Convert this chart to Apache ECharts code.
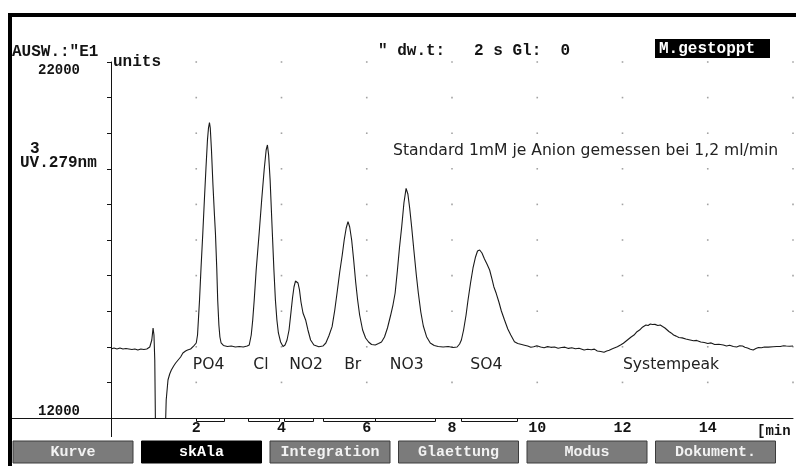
<!DOCTYPE html>
<html>
<head>
<meta charset="utf-8">
<script src="https://cdn.jsdelivr.net/npm/echarts@6/dist/echarts.min.js"></script>
<style>
  html, body { margin: 0; padding: 0; background: #ffffff; }
  #chart { width: 796px; height: 466px; }
</style>
</head>
<body>
<div id="chart"></div>
<script>
// Chromatogram of a 1 mM anion standard, UV detection at 279 nm
const minutes = [
  0.000, 0.070, 0.140, 0.210, 0.280, 0.350, 0.420, 0.490, 0.560, 0.630, 0.700, 0.770, 0.840, 0.910,
  0.957, 0.987, 1.008, 1.027, 1.050, 1.260, 1.295, 1.337, 1.377, 1.416, 1.470, 1.517, 1.563, 1.633,
  1.687, 1.750, 1.797, 1.867, 1.937, 2.000,
  2.030, 2.053, 2.077, 2.112, 2.154, 2.193, 2.228, 2.263, 2.287, 2.310, 2.329, 2.357, 2.392, 2.427,
  2.450, 2.481, 2.503, 2.531, 2.555, 2.583, 2.637, 2.730, 2.823, 2.917, 3.010, 3.103, 3.196,
  3.243, 3.290, 3.325, 3.360, 3.406, 3.476, 3.535, 3.593, 3.640, 3.670, 3.698, 3.733, 3.785, 3.822,
  3.857, 3.892, 3.927, 3.979, 4.036,
  4.083, 4.130, 4.177, 4.223, 4.258, 4.293, 4.328, 4.352, 4.387, 4.422, 4.457, 4.504, 4.566, 4.620,
  4.683, 4.760, 4.876, 4.970,
  5.040, 5.110, 5.187, 5.250, 5.303, 5.366, 5.425, 5.471, 5.518, 5.560, 5.600, 5.646, 5.693, 5.740,
  5.786, 5.833, 5.903, 5.973, 6.043, 6.113, 6.199, 6.276,
  6.346, 6.416, 6.486, 6.556, 6.615, 6.666, 6.720, 6.767, 6.820, 6.872, 6.923, 6.965, 7.007, 7.053,
  7.105, 7.163, 7.210, 7.268, 7.327, 7.403, 7.490, 7.583, 7.676, 7.793, 7.910, 8.026, 8.120,
  8.178, 8.220, 8.272, 8.330, 8.376, 8.435, 8.493, 8.552, 8.599, 8.649, 8.703, 8.762, 8.820, 8.883,
  8.937, 8.983, 9.037, 9.100, 9.158, 9.232, 9.309, 9.379, 9.465, 9.542, 9.636,
  9.700, 9.775, 9.850, 9.915, 9.990, 10.080, 10.160, 10.243, 10.320, 10.406, 10.490, 10.569, 10.650,
  10.733, 10.810, 10.896, 10.980, 11.099, 11.180, 11.269, 11.340, 11.409, 11.490, 11.566, 11.630,
  11.689, 11.750, 11.806, 11.880, 11.953, 12.020, 12.086, 12.202, 12.270, 12.340, 12.400, 12.457,
  12.550, 12.600, 12.653, 12.700, 12.762, 12.830, 12.886, 12.940, 12.996, 13.089, 13.140, 13.199,
  13.260, 13.322, 13.400, 13.486, 13.560, 13.665, 13.740, 13.836, 13.920, 14.000, 14.080, 14.163,
  14.260, 14.366, 14.440, 14.513, 14.600, 14.677, 14.750, 14.817, 14.870, 14.933, 15.000, 15.066,
  15.130, 15.190, 15.260, 15.329, 15.420, 15.532, 15.620, 15.703, 15.780, 15.842, 15.920, 16.000
];

const signal = [
  13938, 13966, 13938, 13966, 13938, 13952, 13938, 13924, 13938, 13910, 13938, 13924, 13938, 13994,
  14191, 14528, 14331, 13629, 11000, 11000, 12506, 13067, 13236, 13348, 13461, 13545, 13581, 13714,
  13826, 13882, 13910, 13938, 14022, 14107,
  14331, 14809, 15315, 16214, 17197, 18180, 19023, 19809, 20146, 20295, 20146, 19528, 18545, 17702,
  17197, 16214, 15315, 14612, 14275, 14107, 14037, 14008, 14022, 13994, 14008, 13994, 14022,
  14051, 14331, 14753, 15315, 16157, 17197, 18124, 18966, 19528, 19669, 19388, 18685, 17197, 16157,
  15315, 14753, 14388, 14135, 14008,
  14051, 14191, 14472, 14978, 15371, 15680, 15848, 15876, 15792, 15596, 15258, 14949, 14753, 14472,
  14191, 14051, 14003, 14022,
  14107, 14303, 14565, 15034, 15511, 16101, 16579, 17000, 17337, 17514, 17365, 17000, 16438, 15820,
  15315, 14893, 14472, 14247, 14135, 14065, 14051, 14093,
  14135, 14275, 14528, 14865, 15174, 15511, 16157, 16775, 17374, 18040, 18452, 18292, 17899, 17374,
  16719, 16017, 15511, 14978, 14584, 14284, 14107, 14037, 14008, 13994, 14008, 13980, 13994,
  14079, 14191, 14472, 14893, 15315, 15792, 16214, 16523, 16691, 16719, 16635, 16467, 16326, 16157,
  15905, 15680, 15503, 15258, 15006, 14753, 14500, 14331, 14143, 14093, 14065,
  14045, 14022, 13985, 14000, 14030, 13995, 13975, 14005, 13985, 13994, 13960, 13980, 13990,
  13955, 13975, 13945, 13958, 13910, 13930, 13915, 13935, 13882, 13870, 13846, 13880,
  13905, 13940, 13966, 14000, 14051, 14100, 14163, 14275, 14330, 14424, 14470, 14542,
  14612, 14600, 14640, 14625, 14630, 14600, 14612, 14570, 14528, 14430, 14390, 14331,
  14300, 14261, 14250, 14219, 14200, 14171, 14180, 14135, 14120, 14093, 14110, 14065,
  14070, 14051, 14020, 14045, 14010, 13994, 14030, 14022, 13990, 13966, 13930, 13910,
  13950, 13980, 13975, 13994, 13990, 14003, 14010, 14008, 14030, 14022, 14015, 14022
];

// Peak annotations (left edge of the label, in minutes)
const peakNames = ['PO4', 'Cl', 'NO2', 'Br', 'NO3', 'SO4', 'Systempeak'];
const peakLabelMinutes = [1.92, 3.34, 4.18, 5.47, 6.54, 8.43, 12.01];
const peakLabelLevel = 13500;

// Integration windows drawn under the time axis
const integrationStart = [1.99, 3.22, 4.06, 4.98, 6.19, 8.20];
const integrationEnd = [2.64, 3.95, 4.74, 6.19, 7.59, 9.53];

// Dot raster of the plot area
const gridDotMinutes = [2, 4, 6, 8, 10, 12, 14, 16];
const gridDotLevels = [13000, 14000, 15000, 16000, 17000, 18000, 19000, 20000, 21000, 22000];

const menuButtons = ['Kurve', 'skAla', 'Integration', 'Glaettung', 'Modus', 'Dokument.'];
const activeButton = 'skAla';

const MONO = '"Liberation Mono", "DejaVu Sans Mono", monospace';
const SANS = '"DejaVu Sans", sans-serif';
const INK = '#141414';

const curveData = minutes.map((t, i) => [t, signal[i]]);
const dotData = [];
gridDotMinutes.forEach(t => gridDotLevels.forEach(v => dotData.push([t, v])));
const labelData = peakLabelMinutes.map(t => [t, peakLabelLevel]);
const windowData = integrationStart.map((s, i) => [s, integrationEnd[i]]);

function txt(x, y, text, opts) {
  return Object.assign({
    type: 'text', x: x, y: y, silent: true,
    style: Object.assign({
      text: text, font: 'bold 16px ' + MONO, fill: INK,
      textAlign: 'left', textVerticalAlign: 'middle'
    }, (opts && opts.style) || {})
  }, (opts && opts.el) || {});
}

const graphics = [
  // window frame
  { type: 'rect', shape: { x: 8, y: 13, width: 788, height: 4 }, style: { fill: '#000' }, silent: true },
  { type: 'rect', shape: { x: 8, y: 13, width: 4, height: 453 }, style: { fill: '#000' }, silent: true },
  // axis extensions beyond the plot area
  { type: 'line', shape: { x1: 12, y1: 418.5, x2: 111, y2: 418.5 }, style: { stroke: INK, lineWidth: 1 }, silent: true },
  { type: 'line', shape: { x1: 111.5, y1: 418, x2: 111.5, y2: 437 }, style: { stroke: INK, lineWidth: 1 }, silent: true },
  // header
  txt(12, 52, 'AUSW.:"E1'),
  txt(378, 51, '" dw.t:   2 s Gl:  0'),
  { type: 'rect', shape: { x: 655, y: 39, width: 115, height: 19 }, style: { fill: '#000' }, silent: true },
  txt(659, 49, 'M.gestoppt', { style: { fill: '#ffffff' } }),
  // channel description
  txt(30, 149, '3'),
  txt(20, 163, 'UV.279nm'),
  // time unit
  txt(757, 431, '[min', { style: { font: 'bold 14px ' + MONO } }),
  // run description
  txt(393, 151, 'Standard 1mM je Anion gemessen bei 1,2 ml/min', { style: { font: '15.6px ' + SANS, fill: '#222' } })
];

// function-key menu
menuButtons.forEach((name, i) => {
  const x = 13 + i * 128.5;
  const active = name === activeButton;
  graphics.push({
    type: 'rect', silent: true,
    shape: { x: x, y: 441, width: 120, height: 22 },
    style: { fill: active ? '#000000' : '#7b7b7b', stroke: active ? '#000000' : '#3c3c3c', lineWidth: 1 }
  });
  graphics.push(txt(x + 60, 452.5, name, { style: { textAlign: 'center', fill: active ? '#ffffff' : '#f2f2f2', font: 'bold 15px ' + MONO } }));
});

const chart = echarts.init(document.getElementById('chart'), null, { renderer: 'canvas' });
chart.setOption({
  animation: false,
  backgroundColor: '#ffffff',
  grid: { left: 111, top: 62, width: 685, height: 356 },
  xAxis: {
    type: 'value', min: 0, max: 16, interval: 2,
    axisLine: { show: true, lineStyle: { color: INK, width: 1 } },
    axisTick: { show: false },
    splitLine: { show: false },
    axisLabel: {
      margin: 3, color: INK, fontFamily: MONO, fontWeight: 'bold', fontSize: 15,
      formatter: v => (v > 0 && v < 16 ? String(v) : '')
    }
  },
  yAxis: {
    type: 'value', min: 12000, max: 22000, interval: 1000,
    name: 'units', nameLocation: 'end', nameGap: 0,
    nameTextStyle: { color: INK, fontFamily: MONO, fontWeight: 'bold', fontSize: 16, align: 'left', verticalAlign: 'middle', padding: [4, 0, 0, 2] },
    axisLine: { show: true, lineStyle: { color: INK, width: 1 } },
    axisTick: { show: true, length: 4, lineStyle: { color: INK } },
    splitLine: { show: false },
    axisLabel: {
      margin: 31, color: INK, fontFamily: MONO, fontWeight: 'bold', fontSize: 14,
      formatter: v => (v === 22000 ? '{hi|22000}' : v === 12000 ? '{lo|12000}' : ''),
      rich: {
        hi: { padding: [16, 0, 0, 0], fontFamily: MONO, fontWeight: 'bold', fontSize: 14, color: INK },
        lo: { padding: [0, 0, 14, 0], fontFamily: MONO, fontWeight: 'bold', fontSize: 14, color: INK }
      }
    }
  },
  graphic: graphics,
  series: [
    {
      name: 'raster', type: 'scatter', data: dotData, symbol: 'rect', symbolSize: 1.6,
      itemStyle: { color: '#8c8c8c' }, silent: true, z: 1
    },
    {
      name: 'UV 279 nm', type: 'line', data: curveData, showSymbol: false, clip: true,
      lineStyle: { color: '#1a1a1a', width: 1.1 }, silent: true, z: 3
    },
    {
      name: 'integration', type: 'custom', data: windowData, silent: true, z: 2,
      renderItem: (params, api) => {
        const a = api.coord([api.value(0), 12000]);
        const b = api.coord([api.value(1), 12000]);
        const y0 = Math.round(a[1]) + 0.5;
        const x0 = Math.round(a[0]) + 0.5;
        const x1 = Math.round(b[0]) + 0.5;
        return {
          type: 'polyline',
          shape: { points: [[x0, y0], [x0, y0 + 3], [x1, y0 + 3], [x1, y0]] },
          style: { stroke: INK, fill: null, lineWidth: 1 }
        };
      }
    },
    {
      name: 'peaks', type: 'custom', data: labelData, silent: true, z: 4,
      renderItem: (params, api) => {
        const p = api.coord([api.value(0), api.value(1)]);
        return {
          type: 'text', x: p[0], y: p[1],
          style: {
            text: peakNames[params.dataIndex], font: '15.6px ' + SANS, fill: '#222',
            textAlign: 'left', textVerticalAlign: 'middle', align: 'left', verticalAlign: 'middle'
          }
        };
      }
    }
  ]
});
</script>
</body>
</html>
